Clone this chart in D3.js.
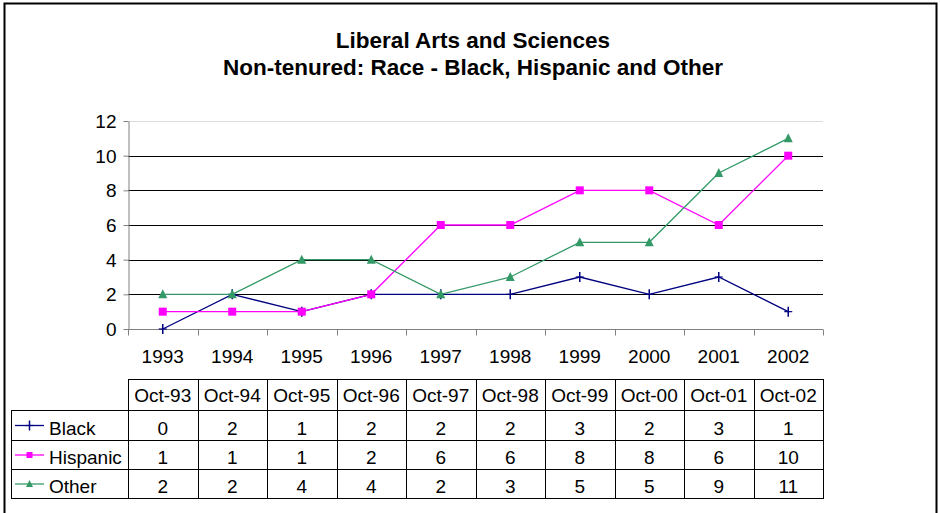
<!DOCTYPE html>
<html>
  <head>
    <meta charset="utf-8">
    <title>Liberal Arts and Sciences - Non-tenured</title>
    <script src="https://d3js.org/d3.v7.min.js"></script>
    <style>
      body { margin: 0; background: #fff; }
      svg text { font-family: "Liberation Sans", Arial, sans-serif; fill: #000; }
      .title { font-size: 22.5px; font-weight: bold; text-anchor: middle; }
      .axis text { font-size: 19px; }
      .cell { font-size: 19px; text-anchor: middle; }
    </style>
  </head>
  <body>
    <script>
      // chart data
      var years = ["1993", "1994", "1995", "1996", "1997", "1998", "1999", "2000", "2001", "2002"];
      var tableHeads = ["Oct-93", "Oct-94", "Oct-95", "Oct-96", "Oct-97", "Oct-98", "Oct-99", "Oct-00", "Oct-01", "Oct-02"];
      var black = [0, 2, 1, 2, 2, 2, 3, 2, 3, 1];
      var hispanic = [1, 1, 1, 2, 6, 6, 8, 8, 6, 10];
      var other = [2, 2, 4, 4, 2, 3, 5, 5, 9, 11];
      var yTicks = [0, 2, 4, 6, 8, 10, 12];

      var series = [
        { name: "Black", values: black, color: "#000080", marker: "plus" },
        { name: "Hispanic", values: hispanic, color: "#ff00ff", marker: "square" },
        { name: "Other", values: other, color: "#339966", marker: "triangle" }
      ];

      var width = 940, height = 513;
      var plotLeft = 128, plotRight = 823, plotTop = 121, plotBottom = 329;

      var svg = d3.select("body").append("svg")
                  .attr("width", width)
                  .attr("height", height);

      // outer chart border
      svg.append("rect")
         .attr("x", 4.5).attr("y", 3.5)
         .attr("width", 932).attr("height", 512)
         .attr("fill", "#fff")
         .attr("stroke", "#000")
         .attr("stroke-width", 2);

      // title
      svg.append("text").attr("class", "title")
         .attr("x", 473).attr("y", 48)
         .text("Liberal Arts and Sciences");
      svg.append("text").attr("class", "title")
         .attr("x", 473).attr("y", 75)
         .text("Non-tenured: Race - Black, Hispanic and Other");

      var xScale = d3.scaleBand().domain(years).range([plotLeft, plotRight]);
      var yScale = d3.scaleLinear().domain([0, 12]).range([plotBottom, plotTop]);

      // gridlines
      svg.append("g")
         .selectAll("line")
         .data(yTicks.filter(function(d) { return d > 0; }))
         .enter().append("line")
         .attr("x1", plotLeft).attr("x2", plotRight)
         .attr("y1", function(d) { return Math.round(yScale(d)) + 0.5; })
         .attr("y2", function(d) { return Math.round(yScale(d)) + 0.5; })
         .attr("stroke", function(d) { return d === 12 ? "#dddddd" : "#000"; })
         .attr("stroke-width", 1);

      // y axis
      var yAxis = svg.append("g")
         .attr("class", "axis")
         .attr("transform", "translate(" + (plotLeft + 0.5) + ",0)")
         .call(d3.axisLeft(yScale).tickValues(yTicks).tickSize(5).tickPadding(7).tickSizeOuter(0));
      yAxis.select(".domain").attr("stroke", "#808080");
      yAxis.selectAll(".tick line").attr("stroke", "#808080");
      yAxis.selectAll("text").attr("dy", "0.35em");

      // x axis: ticks sit between categories
      var xAxis = svg.append("g")
         .attr("class", "axis")
         .attr("transform", "translate(0," + (plotBottom + 0.5) + ")");
      xAxis.append("line")
         .attr("x1", plotLeft).attr("x2", plotRight)
         .attr("stroke", "#808080");
      xAxis.selectAll(".tk")
         .data(years.concat(["end"]))
         .enter().append("line")
         .attr("class", "tk")
         .attr("x1", function(d, i) { return Math.round(plotLeft + i * xScale.bandwidth()) + 0.5; })
         .attr("x2", function(d, i) { return Math.round(plotLeft + i * xScale.bandwidth()) + 0.5; })
         .attr("y1", 0).attr("y2", 6)
         .attr("stroke", "#808080");
      xAxis.selectAll(".lbl")
         .data(years)
         .enter().append("text")
         .attr("class", "lbl")
         .attr("x", function(d) { return xScale(d) + xScale.bandwidth() / 2; })
         .attr("y", 33)
         .attr("text-anchor", "middle")
         .text(function(d) { return d; });

      function cx(i) { return xScale(years[i]) + xScale.bandwidth() / 2; }

      function drawMarker(g, type, color, x, y, small) {
        if (type === "plus") {
          g.append("line").attr("x1", x).attr("x2", x)
           .attr("y1", y - 5).attr("y2", y + 5)
           .attr("stroke", color).attr("stroke-width", 1.5);
          g.append("line").attr("x1", x - 4).attr("x2", x + 4)
           .attr("y1", y).attr("y2", y)
           .attr("stroke", color).attr("stroke-width", 1.2);
        } else if (type === "square") {
          var s = small ? 6 : 8;
          g.append("rect").attr("x", x - s / 2).attr("y", y - s / 2)
           .attr("width", s).attr("height", s).attr("fill", color);
        } else {
          var h = small ? 6 : 8;
          g.append("path")
           .attr("d", "M" + x + "," + (y - h / 2 - 1) + "L" + (x + h / 2 + 0.5) + "," + (y + h / 2) +
                 "L" + (x - h / 2 - 0.5) + "," + (y + h / 2) + "Z")
           .attr("fill", color);
        }
      }

      // series lines and markers
      var line = d3.line()
                   .x(function(d, i) { return cx(i); })
                   .y(function(d) { return yScale(d); });

      series.forEach(function(s) {
        var g = svg.append("g");
        g.append("path")
         .datum(s.values)
         .attr("d", line)
         .attr("fill", "none")
         .attr("stroke", s.color)
         .attr("stroke-width", 1.3);
        s.values.forEach(function(v, i) {
          drawMarker(g, s.marker, s.color, cx(i), yScale(v), false);
        });
      });

      // data table
      var tableLeft = 11, headTop = 379.5, rowTops = [410.5, 440.5, 469.5], tableBottom = 498.5;
      var tbl = svg.append("g");

      tbl.append("rect")
         .attr("x", plotLeft + 0.5).attr("y", headTop)
         .attr("width", plotRight - plotLeft).attr("height", rowTops[0] - headTop)
         .attr("fill", "none").attr("stroke", "#000");
      tbl.append("rect")
         .attr("x", tableLeft + 0.5).attr("y", rowTops[0])
         .attr("width", plotRight - tableLeft).attr("height", tableBottom - rowTops[0])
         .attr("fill", "none").attr("stroke", "#000");
      rowTops.slice(1).forEach(function(y) {
        tbl.append("line").attr("x1", tableLeft).attr("x2", plotRight)
           .attr("y1", y).attr("y2", y).attr("stroke", "#000");
      });
      years.forEach(function(d, i) {
        var x = Math.round(plotLeft + i * xScale.bandwidth()) + 0.5;
        tbl.append("line").attr("x1", x).attr("x2", x)
           .attr("y1", headTop).attr("y2", tableBottom)
           .attr("stroke", "#000");
      });

      tableHeads.forEach(function(h, i) {
        tbl.append("text").attr("class", "cell")
           .attr("x", cx(i)).attr("y", (headTop + rowTops[0]) / 2 + 7)
           .text(h);
      });

      series.forEach(function(s, r) {
        var yTop = rowTops[r];
        var yBot = r < 2 ? rowTops[r + 1] : tableBottom;
        var ym = (yTop + yBot) / 2;
        // legend key
        tbl.append("line")
           .attr("x1", 15).attr("x2", 44)
           .attr("y1", ym).attr("y2", ym)
           .attr("stroke", s.color).attr("stroke-width", 1.3);
        drawMarker(tbl, s.marker, s.color, 29.5, ym, true);
        tbl.append("text")
           .attr("x", 49).attr("y", ym + 9)
           .style("font-size", "19px")
           .text(s.name);
        s.values.forEach(function(v, i) {
          tbl.append("text").attr("class", "cell")
             .attr("x", cx(i)).attr("y", ym + 9)
             .text(v);
        });
      });
    </script>
  </body>
</html>
